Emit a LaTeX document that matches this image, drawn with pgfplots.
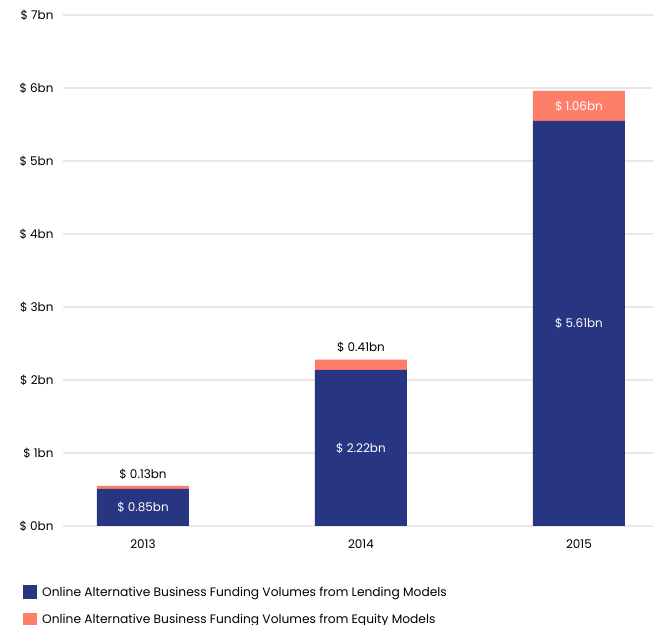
\documentclass[border=0pt]{standalone}
\usepackage{pgfplots}
\pgfplotsset{compat=1.18}
\usepackage{fontspec}
\setmainfont{Poppins}
\definecolor{navy}{RGB}{40,54,130}
\definecolor{salmon}{RGB}{255,126,106}
\definecolor{gridc}{RGB}{232,232,232}
\begin{document}
\begin{tikzpicture}[x=1bp,y=1bp]
\path[use as bounding box] (0,0) rectangle (653,625);
\begin{axis}[
  at={(63bp,99bp)}, anchor=south west,
  scale only axis, width=590bp, height=511bp,
  ybar stacked, bar width=92bp,
  xmin=-0.367, xmax=2.34, ymin=0, ymax=7,
  ytick={0,1,2,3,4,5,6,7},
  yticklabel={\$ \pgfmathprintnumber{\tick}bn},
  xtick={0,1,2}, xticklabels={2013,2014,2015},
  /pgf/number format/assume math mode=true,
  tick label style={font=\fontsize{12}{14}\selectfont, text=black},
  yticklabel style={anchor=east, xshift=-6bp},
  xticklabel style={yshift=-10bp},
  axis line style={draw=none},
  major tick length=0pt,
  ymajorgrids, grid style={gridc, line width=1.3bp},
  legend style={draw=none, fill=none, inner sep=0pt, at={(-0.0678,-0.1135)}, anchor=north west,
    font=\fontsize{12.3}{14}\selectfont, row sep=12bp, column sep=0pt,
    nodes={inner sep=2.5bp}},
  legend cell align=left,
  legend image code/.code={\fill[#1] (0bp,-7bp) rectangle (14bp,7bp);},
]
\addplot[fill=navy, draw=none] coordinates {(0,0.507) (1,2.14) (2,5.55)};
\addlegendentry{\hspace{2.5bp}Online Alternative Business Funding Volumes from Lending Models}
\addplot[fill=salmon, draw=none] coordinates {(0,0.041) (1,0.14) (2,0.41)};
\addlegendentry{\hspace{2.5bp}Online Alternative Business Funding Volumes from Equity Models}
\coordinate (l1) at (axis cs:0,0.2535);
\coordinate (l2) at (axis cs:1,1.07);
\coordinate (l3) at (axis cs:2,2.775);
\coordinate (e1) at (axis cs:0,0.712);
\coordinate (e2) at (axis cs:1,2.45);
\coordinate (e3) at (axis cs:2,5.755);
\end{axis}
\begin{scope}[every node/.style={font=\fontsize{12}{14}\selectfont}]
\node[text=white] at (l1) {\$ 0.85bn};
\node[text=white] at (l2) {\$ 2.22bn};
\node[text=white] at (l3) {\$ 5.61bn};
\node[text=black] at (e1) {\$ 0.13bn};
\node[text=black] at (e2) {\$ 0.41bn};
\node[text=white] at (e3) {\$ 1.06bn};
\end{scope}
\end{tikzpicture}
\end{document}
